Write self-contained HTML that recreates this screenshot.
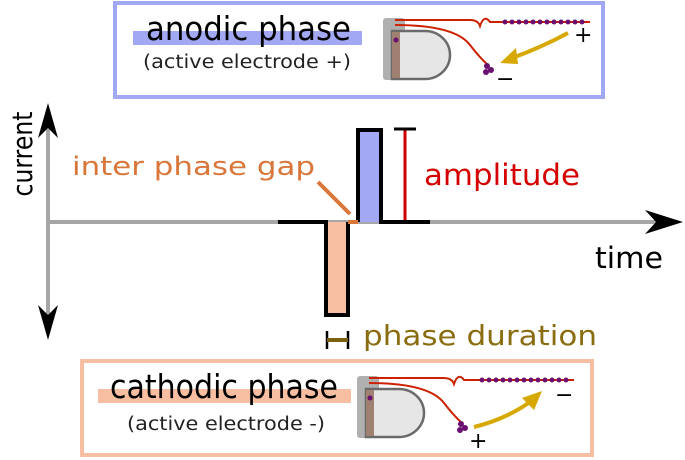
<!DOCTYPE html>
<html><head><style>
html,body{margin:0;padding:0;background:#fff;}
svg{display:block;font-family:"DejaVu Sans","Liberation Sans",sans-serif;}
</style></head><body>
<svg width="685" height="460" viewBox="0 0 685 460" xmlns="http://www.w3.org/2000/svg">
<!-- top box -->
<rect x="115" y="3" width="488" height="94" fill="#fff" stroke="#a3a8f5" stroke-width="4"/>
<rect x="133" y="31" width="229" height="14" fill="#a3a8f5"/>
<text x="146" y="40" font-size="33" fill="#000" textLength="205" lengthAdjust="spacingAndGlyphs">anodic phase</text>
<text x="143" y="68" font-size="18.5" fill="#222" textLength="208" lengthAdjust="spacingAndGlyphs">(active electrode +)</text>
<g>
<rect x="383" y="18" width="22" height="62" rx="3" fill="#b0b0b0"/>
<path d="M392 31 H425 A25 24 0 0 1 425 79 H392 Z" fill="#e6e6e6" stroke="#6a6a6a" stroke-width="2.5"/>
<rect x="392" y="32" width="8" height="46" fill="#a08070"/>
<circle cx="396" cy="40" r="2.5" fill="#6a1070"/>
<path d="M395 20 H470 Q478 20 480 26 Q484 14 490 22 H590" fill="none" stroke="#cc2200" stroke-width="2"/>
<path d="M395 25 Q455 25 470 45 Q480 58 488 65" fill="none" stroke="#cc2200" stroke-width="2"/>
<g fill="#6a1070"><circle cx="505" cy="22" r="2.5"/><circle cx="512" cy="22" r="2.5"/><circle cx="519" cy="22" r="2.5"/><circle cx="526" cy="22" r="2.5"/><circle cx="533" cy="22" r="2.5"/><circle cx="540" cy="22" r="2.5"/><circle cx="547" cy="22" r="2.5"/><circle cx="554" cy="22" r="2.5"/><circle cx="561" cy="22" r="2.5"/><circle cx="568" cy="22" r="2.5"/><circle cx="575" cy="22" r="2.5"/><circle cx="582" cy="22" r="2.5"/>
<circle cx="487" cy="66" r="3"/><circle cx="491" cy="70" r="3"/><circle cx="486" cy="72" r="3"/></g>
<path d="M568 33 Q540 48 512 58" fill="none" stroke="#d6a800" stroke-width="4"/>
<path d="M500 63 L516 48 L518 64 Z" fill="#d6a800"/>
<text x="574" y="42" font-size="22">+</text>
<text x="496" y="86" font-size="22">−</text>
</g>
<!-- bottom box -->
<rect x="82" y="361" width="510" height="94" fill="#fff" stroke="#f8bea2" stroke-width="4"/>
<rect x="98" y="389" width="253" height="14" fill="#f8bea2"/>
<text x="110" y="398" font-size="33" fill="#000" textLength="228" lengthAdjust="spacingAndGlyphs">cathodic phase</text>
<text x="127" y="430" font-size="18.5" fill="#222" textLength="198" lengthAdjust="spacingAndGlyphs">(active electrode -)</text>
<g transform="translate(-26,358)">
<rect x="383" y="18" width="22" height="62" rx="3" fill="#b0b0b0"/>
<path d="M392 31 H425 A25 24 0 0 1 425 79 H392 Z" fill="#e6e6e6" stroke="#6a6a6a" stroke-width="2.5"/>
<rect x="392" y="32" width="8" height="46" fill="#a08070"/>
<circle cx="396" cy="40" r="2.5" fill="#6a1070"/>
<path d="M395 20 H470 Q478 20 480 26 Q484 14 490 22 H600" fill="none" stroke="#cc2200" stroke-width="2"/>
<path d="M395 25 Q455 25 470 45 Q480 58 488 65" fill="none" stroke="#cc2200" stroke-width="2"/>
<g fill="#6a1070"><circle cx="508" cy="22" r="2.5"/><circle cx="515" cy="22" r="2.5"/><circle cx="522" cy="22" r="2.5"/><circle cx="529" cy="22" r="2.5"/><circle cx="536" cy="22" r="2.5"/><circle cx="543" cy="22" r="2.5"/><circle cx="550" cy="22" r="2.5"/><circle cx="557" cy="22" r="2.5"/><circle cx="564" cy="22" r="2.5"/><circle cx="571" cy="22" r="2.5"/><circle cx="578" cy="22" r="2.5"/><circle cx="585" cy="22" r="2.5"/><circle cx="592" cy="22" r="2.5"/>
<circle cx="487" cy="66" r="3"/><circle cx="491" cy="70" r="3"/><circle cx="486" cy="72" r="3"/></g>
<path d="M500 69 Q530 62 556 44" fill="none" stroke="#d6a800" stroke-width="4"/>
<path d="M568 33 L548 40 L560 52 Z" fill="#d6a800"/>
<text x="495" y="90" font-size="22">+</text>
<text x="581" y="44" font-size="22">−</text>
</g>
<!-- axes -->
<line x1="48" y1="115" x2="48" y2="330" stroke="#a6a6a6" stroke-width="4"/>
<line x1="48" y1="222" x2="670" y2="222" stroke="#a6a6a6" stroke-width="4"/>
<path d="M48 103 L58 138 L48 128 L38 138 Z" fill="#000"/>
<path d="M48 340 L58 305 L48 315 L38 305 Z" fill="#000"/>
<path d="M683 222 L645 210 L656 222 L645 234 Z" fill="#000"/>
<text transform="translate(32,154) rotate(-90)" text-anchor="middle" font-size="28" textLength="85" lengthAdjust="spacingAndGlyphs">current</text>
<text x="595" y="268" font-size="29" textLength="68" lengthAdjust="spacingAndGlyphs">time</text>
<!-- waveform -->
<rect x="327" y="222" width="21" height="93" fill="#f8bea2"/>
<rect x="360" y="130" width="21" height="92" fill="#a3a8f5"/>
<path d="M278 222 H326 V315 H348 V222 M358 222 V130 H381 V222 H430" fill="none" stroke="#000" stroke-width="4"/>
<path d="M348 222 H358" stroke="#d9773a" stroke-width="4"/>
<line x1="318" y1="182" x2="350" y2="214" stroke="#d9773a" stroke-width="4"/>
<line x1="405" y1="130" x2="405" y2="220" stroke="#cc0000" stroke-width="3"/>
<line x1="394" y1="129" x2="416" y2="129" stroke="#000" stroke-width="3"/>
<text x="72" y="175" font-size="26" fill="#d9773a" textLength="243" lengthAdjust="spacingAndGlyphs">inter phase gap</text>
<text x="424" y="185" font-size="29" fill="#d40000" textLength="156" lengthAdjust="spacingAndGlyphs">amplitude</text>
<text x="363" y="345" font-size="28" fill="#8a6d10" textLength="234" lengthAdjust="spacingAndGlyphs">phase duration</text>
<!-- phase duration -->
<line x1="327" y1="331" x2="327" y2="349" stroke="#000" stroke-width="2.5"/>
<line x1="348" y1="331" x2="348" y2="349" stroke="#000" stroke-width="2.5"/>
<line x1="327" y1="340" x2="348" y2="340" stroke="#7a6010" stroke-width="4"/>
</svg>
</body></html>
